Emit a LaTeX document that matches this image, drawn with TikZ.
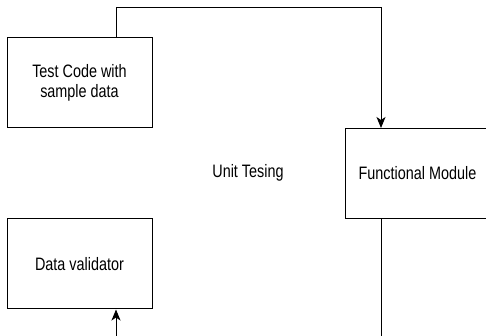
\documentclass[tikz,border=0pt]{standalone}
\usepackage{fontspec}
\setmainfont{Liberation Sans}[FakeStretch=0.8]
\usetikzlibrary{arrows.meta}
\tikzstyle{process} = [rectangle, minimum width=145pt, minimum height=90pt, inner sep=0pt, align=center, draw=black, line width=1pt, font=\fontsize{18}{19.5}\selectfont]
\tikzstyle{caption} = [inner sep=0pt, font=\fontsize{18}{19.5}\selectfont]
\tikzstyle{line} = [draw=black, line width=1pt]
\tikzstyle{arrow} = [line, -{Stealth[length=11pt, width=9pt, inset=3pt]}]

\begin{document}
\begin{tikzpicture}[x=1pt, y=1pt]
	\useasboundingbox (0,0) rectangle (486,336);
	\clip (0,0) rectangle (486,336);
	\node (test) [process] at (79.5,253) {Test Code with\\sample data};
	\node (module) [process] at (417.5,162.5) {Functional Module};
	\node (valid) [process] at (79.5,72) {Data validator};
	\node (label) [caption] at (248,163) {Unit Tesing};

	\coordinate (topleft) at (116,328);
	\coordinate (topright) at (381,328);
	\coordinate (outmodule) at (381,0);
	\coordinate (invalid) at (116,0);
		\draw [arrow] (test.north -| topleft) -- (topleft) -- (topright) -- (module.north -| topright);
		\draw [line] (module.south -| outmodule) -- (outmodule);
		\draw [arrow] (invalid) -- (valid.south -| invalid);
\end{tikzpicture}
\end{document}
